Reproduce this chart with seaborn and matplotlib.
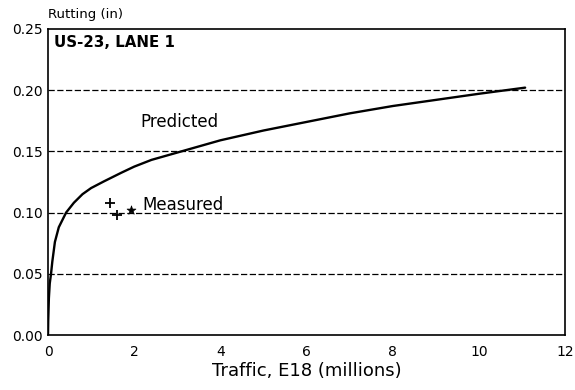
import matplotlib
matplotlib.use("Agg")
import matplotlib.pyplot as plt
import seaborn as sns
import pandas as pd

# Predicted rutting curve (traffic in millions of E18, rutting in inches)
traffic_pred = [0, 0.005, 0.02, 0.04, 0.07, 0.1, 0.16, 0.25, 0.42, 0.6, 0.8, 1.0,
                1.3, 1.7, 2.0, 2.4, 2.8, 3.2, 4.0, 5.0, 6.0, 7.0, 8.0, 9.0, 10.0, 11.07]
rut_pred = [0.0, 0.012, 0.030, 0.042, 0.050, 0.060, 0.076, 0.088, 0.100, 0.108,
            0.115, 0.120, 0.1255, 0.1325, 0.1375, 0.143, 0.147, 0.151, 0.159, 0.167,
            0.174, 0.181, 0.187, 0.192, 0.197, 0.202]

# Measured rutting
traffic_meas = [1.44, 1.60, 1.93]
rut_meas = [0.108, 0.098, 0.102]
meas_marker = ["+", "+", "*"]

x_ticks = [0, 2, 4, 6, 8, 10, 12]
y_ticks = [0.00, 0.05, 0.10, 0.15, 0.20, 0.25]

sns.set_theme(style="white")
plt.rcParams["font.family"] = ["DejaVu Sans"]
plt.rcParams["text.color"] = "black"
plt.rcParams["axes.labelcolor"] = "black"

fig = plt.figure(figsize=(5.75, 3.9), dpi=100)
ax = fig.add_axes([0.0835, 0.141, 0.8995, 0.785])

pred = pd.DataFrame({"traffic": traffic_pred, "rut": rut_pred})
meas = pd.DataFrame({"traffic": traffic_meas, "rut": rut_meas, "kind": meas_marker})

sns.lineplot(data=pred, x="traffic", y="rut", color="black", linewidth=1.7, ax=ax)
for kind, group in meas.groupby("kind"):
    sns.scatterplot(data=group, x="traffic", y="rut", marker=kind, color="black",
                    s=60 if kind == "+" else 45, linewidth=1.3 if kind == "+" else 0.5,
                    edgecolor="black", legend=False, ax=ax)

ax.set_xlim(0, 12)
ax.set_ylim(0, 0.25)
ax.set_xticks(x_ticks)
ax.set_yticks(y_ticks)
ax.set_xticklabels([str(t) for t in x_ticks])
ax.set_yticklabels([f"{t:.2f}" for t in y_ticks])
ax.tick_params(axis="x", direction="in", length=4, width=1, colors="black",
               labelcolor="black", labelsize=10, pad=7)
ax.tick_params(axis="y", direction="in", length=0, colors="black",
               labelcolor="black", labelsize=10, pad=4)

for y in y_ticks[1:-1]:
    ax.axhline(y, color="black", linestyle=(0, (5, 2)), linewidth=0.9, zorder=0)

for side in ["left", "bottom", "right", "top"]:
    ax.spines[side].set_visible(True)
    ax.spines[side].set_color("black")
    ax.spines[side].set_linewidth(1.2)
ax.spines["top"].set_linestyle((0, (6, 1)))

ax.set_xlabel("Traffic, E18 (millions)", fontsize=13, labelpad=2, color="black")
ax.set_ylabel("")
fig.text(0.083, 0.962, "Rutting (in)", fontsize=9.5, ha="left", va="center")

ax.text(0.13, 0.239, "US-23, LANE 1", fontsize=10.8, fontweight="bold", va="center")
ax.text(3.04, 0.174, "Predicted", fontsize=12, ha="center", va="center")
ax.text(2.2, 0.106, "Measured", fontsize=12, ha="left", va="center")

fig.savefig("out.png", dpi=100, facecolor="white")
